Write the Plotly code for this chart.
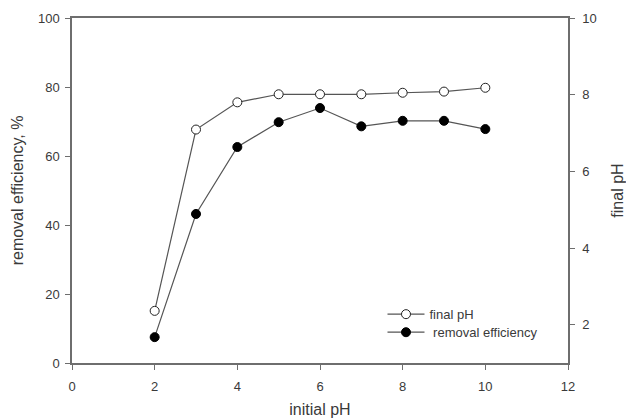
import plotly.graph_objects as go

initial_ph = [2, 3, 4, 5, 6, 7, 8, 9, 10]
final_ph = [2.36, 7.09, 7.80, 8.01, 8.01, 8.01, 8.05, 8.08, 8.18]
removal_eff = [7.5, 43.2, 62.6, 69.8, 73.9, 68.6, 70.2, 70.2, 67.8]

x_ticks = [0, 2, 4, 6, 8, 10, 12]
left_ticks = [0, 20, 40, 60, 80, 100]
right_ticks = [2, 4, 6, 8, 10]

axis_col = "#6e6e6e"
text_col = "#3a3a3a"
font_fam = "Liberation Sans, Arial, sans-serif"

fig = go.Figure()
fig.add_trace(go.Scatter(
    x=initial_ph, y=final_ph, yaxis="y2", name="final pH",
    mode="lines+markers", legend="legend",
    line=dict(color="#555555", width=1.2),
    marker=dict(symbol="circle", size=9, color="white",
                line=dict(color="#222222", width=1)),
))
fig.add_trace(go.Scatter(
    x=initial_ph, y=removal_eff, yaxis="y", name=" removal efficiency",
    mode="lines+markers", legend="legend2",
    line=dict(color="#555555", width=1.2),
    marker=dict(symbol="circle", size=9, color="black",
                line=dict(color="black", width=1)),
))

leg_common = dict(xanchor="left", yanchor="middle", bgcolor="rgba(0,0,0,0)",
                  font=dict(size=13, color=text_col), itemwidth=37)

fig.update_layout(
    width=626, height=419,
    margin=dict(l=72, r=58, t=18, b=56, autoexpand=False),
    paper_bgcolor="white", plot_bgcolor="white",
    font=dict(family=font_fam, size=13, color=text_col),
    showlegend=True,
    legend=dict(x=0.626, y=0.1414, **leg_common),
    legend2=dict(x=0.626, y=0.0891, **leg_common),
    xaxis=dict(range=[0, 12], tickvals=x_ticks, showgrid=False, zeroline=False,
               showline=True, linecolor=axis_col, linewidth=1.5, mirror=True,
               ticks="outside", ticklen=5, tickcolor=axis_col, automargin=False,
               ticklabelstandoff=6,
               title=dict(text="initial pH", font=dict(size=16), standoff=10)),
    yaxis=dict(range=[0, 100], tickvals=left_ticks, showgrid=False, zeroline=False,
               showline=True, linecolor=axis_col, linewidth=1.5,
               ticks="outside", ticklen=5, tickcolor=axis_col, automargin=False,
               ticklabelstandoff=3,
               title=dict(text="removal efficiency, %", font=dict(size=16), standoff=10)),
    yaxis2=dict(range=[1, 10], tickvals=right_ticks, overlaying="y", side="right",
                showgrid=False, zeroline=False,
                showline=True, linecolor=axis_col, linewidth=1.5,
                ticks="outside", ticklen=5, tickcolor=axis_col, automargin=False,
                ticklabelstandoff=5,
                title=dict(text="final pH", font=dict(size=16), standoff=17)),
)

fig.write_html("out.html", config={"displayModeBar": False},
               post_script="document.body.style.margin='0';")
